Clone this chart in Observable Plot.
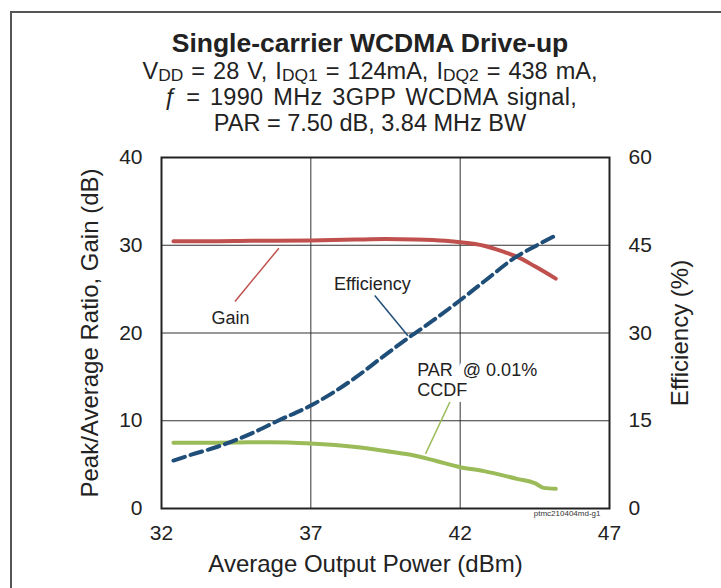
<!DOCTYPE html>
<html>
<head>
<meta charset="utf-8">
<script src="https://cdn.jsdelivr.net/npm/d3@7"></script>
<script src="https://cdn.jsdelivr.net/npm/@observablehq/plot@0.6"></script>
<style>
  html, body { margin: 0; padding: 0; background: #fff; width: 721px; height: 588px; overflow: hidden; }
  body { position: relative; font-family: "Liberation Sans", Arial, sans-serif; color: #222; }
  #border { position: absolute; left: 10px; top: 11px; width: 760px; height: 640px; border-left: 2px solid #555; border-top: 2px solid #555; }
  #title { position: absolute; left: 120px; width: 500px; top: 28px; text-align: center; font-weight: bold; font-size: 26.5px; line-height: 30px; }
  #subtitle { position: absolute; left: 70px; width: 600px; top: 58px; text-align: center; font-size: 23.5px; line-height: 26px; }
  #subtitle sub { font-size: 0.74em; line-height: 0; vertical-align: baseline; position: relative; top: 0.14em; }
  #l1 { word-spacing: 1.5px; }
  #l2 { word-spacing: 3px; letter-spacing: 0.3px; }
  #chart { position: absolute; left: 0; top: 140px; }
</style>
</head>
<body>
<div id="border"></div>
<div id="title">Single-carrier WCDMA Drive-up</div>
<div id="subtitle"><span id="l1">V<sub>DD</sub> = 28 V, I<sub>DQ1</sub> = 124mA, I<sub>DQ2</sub> = 438 mA,</span><br><span id="l2"><i>ƒ</i> = 1990 MHz 3GPP WCDMA signal,</span><br>PAR = 7.50 dB, 3.84 MHz BW</div>
<div id="chart"></div>
<script>
// Tick values
const xTicks = [32, 37, 42, 47];
const yTicks = [0, 10, 20, 30, 40];
const effTicks = [0, 15, 30, 45, 60];

// Gain (dB), left axis
const gainX = [32.4, 33.5, 35.0, 37.0, 38.5, 39.5, 40.5, 41.5, 42.0, 42.8, 43.5, 43.9, 44.5, 45.2];
const gainY = [30.45, 30.45, 30.5, 30.55, 30.65, 30.7, 30.65, 30.5, 30.35, 29.95, 29.2, 28.7, 27.6, 26.2];

// Efficiency (%), right axis
const effX = [32.4, 33.0, 33.9, 35.0, 35.9, 37.0, 38.5, 39.4, 40.3, 41.0, 42.0, 42.8, 43.9, 44.5, 45.2];
const effY = [8.2, 9.2, 10.6, 12.8, 15.0, 17.6, 22.4, 25.9, 29.3, 31.8, 35.6, 38.8, 43.1, 44.8, 46.7];

// PAR @ 0.01% CCDF (dB), left axis
const parX = [32.4, 33.5, 34.5, 35.6, 37.0, 38.5, 39.5, 40.3, 41.2, 42.0, 42.8, 43.9, 44.5, 44.8, 45.2];
const parY = [7.5, 7.5, 7.52, 7.56, 7.4, 7.0, 6.55, 6.15, 5.41, 4.71, 4.26, 3.38, 2.89, 2.35, 2.24];

// Annotation labels and leader lines (data coordinates, efficiency in left-axis units)
const labelText = ["Gain", "Efficiency", "PAR\u00a0 @ 0.01%\nCCDF"];
const labelX = [34.31, 39.06, 40.56];
const labelY = [21.7, 25.58, 14.7];
const labelAnchor = ["middle", "middle", "start"];
const leaderX1 = [35.93, 39.14, 41.73];
const leaderY1 = [29.66, 24.27, 12.68];
const leaderX2 = [34.46, 40.25, 40.84];
const leaderY2 = [23.6, 19.68, 6.23];

const colors = {gain: "#C0504D", eff: "#1F4E79", par: "#9BBB59"};
const leaderColors = [colors.gain, colors.eff, colors.par];

const effScale = 40 / 60;
const gain = gainX.map((x, i) => ({x, y: gainY[i]}));
const eff = effX.map((x, i) => ({x, y: effY[i] * effScale}));
const par = parX.map((x, i) => ({x, y: parY[i]}));
const labels = labelText.map((t, i) => ({t, x: labelX[i], y: labelY[i], a: labelAnchor[i]}));
const leaders = leaderX1.map((x1, i) => ({x1, y1: leaderY1[i], x2: leaderX2[i], y2: leaderY2[i], c: leaderColors[i]}));

const chart = Plot.plot({
  width: 721,
  height: 448,
  marginLeft: 161,
  marginRight: 112,
  marginTop: 17,
  marginBottom: 80,
  style: {fontFamily: "'Liberation Sans', Arial, sans-serif", color: "#222", background: "transparent", overflow: "visible"},
  x: {domain: [32, 47]},
  y: {domain: [0, 40]},
  marks: [
    Plot.gridX(xTicks.slice(1, -1), {stroke: "#333", strokeOpacity: 1, strokeWidth: 1}),
    Plot.gridY(yTicks.slice(1, -1), {stroke: "#333", strokeOpacity: 1, strokeWidth: 1}),
    Plot.frame({stroke: "#222", strokeWidth: 2}),
    Plot.axisX({ticks: xTicks, tickSize: 0, tickPadding: 17, fontSize: 21, label: null}),
    Plot.axisY({ticks: yTicks, tickSize: 0, tickPadding: 19, fontSize: 21, label: null}),
    Plot.axisY({anchor: "right", ticks: effTicks.map(v => v * effScale), tickFormat: d => Math.round(d / effScale), tickSize: 0, tickPadding: 19, fontSize: 21, label: null}),
    Plot.text(["Peak/Average Ratio, Gain (dB)"], {frameAnchor: "left", rotate: -90, dx: -71, textAnchor: "middle", lineAnchor: "middle", fontSize: 24, fill: "#222"}),
    Plot.text(["Efficiency (%)"], {frameAnchor: "right", rotate: -90, dx: 71, textAnchor: "middle", lineAnchor: "middle", fontSize: 24, fill: "#222"}),
    Plot.text(["Average Output Power (dBm)"], {frameAnchor: "bottom", dx: -20, dy: 56, textAnchor: "middle", lineAnchor: "middle", fontSize: 24, fill: "#222"}),
    Plot.text(["ptmc210404md-g1"], {frameAnchor: "bottom-right", dx: -9, dy: 5, textAnchor: "end", lineAnchor: "middle", fontSize: 8, fill: "#333"}),
    Plot.link(leaders, {x1: "x1", y1: "y1", x2: "x2", y2: "y2", stroke: "c", strokeWidth: 1.5}),
    Plot.line(gain, {x: "x", y: "y", stroke: colors.gain, strokeWidth: 4, curve: "monotone-x"}),
    Plot.line(par, {x: "x", y: "y", stroke: colors.par, strokeWidth: 4, curve: "monotone-x"}),
    Plot.line(eff, {x: "x", y: "y", stroke: colors.eff, strokeWidth: 4, strokeDasharray: "12,6", curve: "monotone-x"}),
    Plot.text(labels.filter(d => d.a === "middle"), {x: "x", y: "y", text: "t", textAnchor: "middle", lineAnchor: "middle", fontSize: 18, fill: "#222"}),
    Plot.text(labels.filter(d => d.a === "start"), {x: "x", y: "y", text: "t", textAnchor: "start", lineAnchor: "middle", lineHeight: 1.1, fontSize: 18, fill: "#222", stroke: "white", strokeWidth: 12, paintOrder: "stroke"})
  ]
});
document.getElementById("chart").appendChild(chart);
</script>
</body>
</html>
